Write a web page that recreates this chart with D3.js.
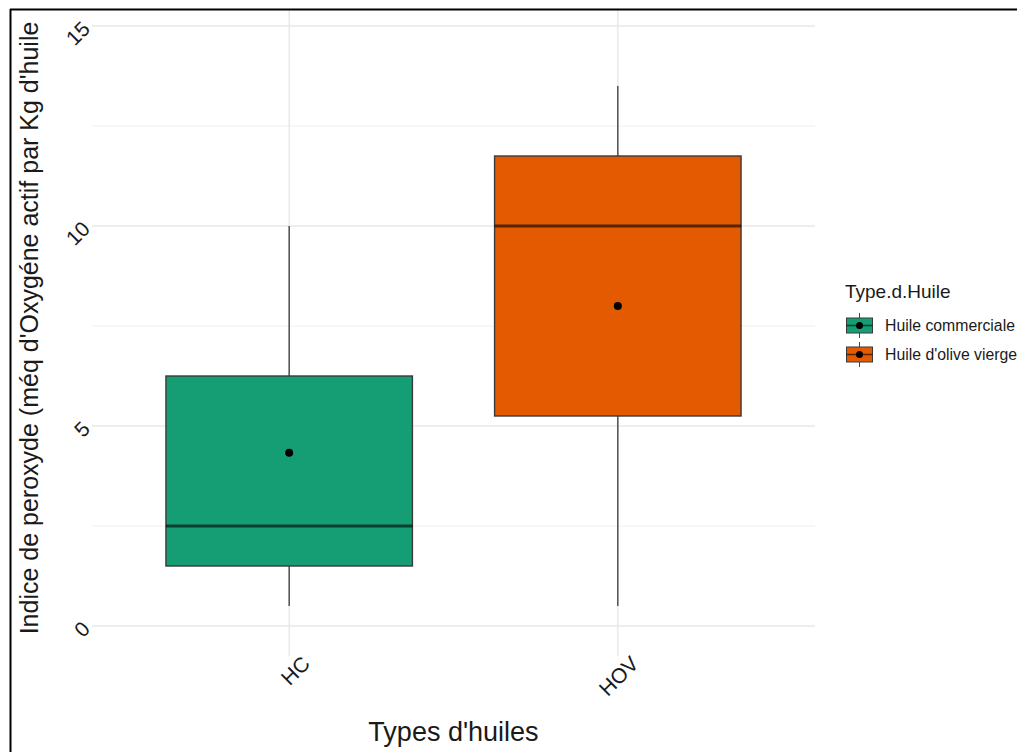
<!DOCTYPE html>
<html><head><meta charset="utf-8">
<script src="https://cdn.jsdelivr.net/npm/d3@7"></script>
<style>body{margin:0;background:#fff;} svg{display:block;font-family:"Liberation Sans",Arial,sans-serif;}</style>
</head><body>
<script>
const categories = ["HC", "HOV"];
const seriesNames = ["Huile commerciale", "Huile d'olive vierge"];
const whiskerLow = [0.5, 0.5];
const q1 = [1.5, 5.25];
const median = [2.5, 10];
const q3 = [6.25, 11.75];
const whiskerHigh = [10, 13.5];
const means = [4.33, 8.0];
const yTicks = [0, 5, 10, 15];
const yMinor = [2.5, 7.5, 12.5];
const colors = ["#159E74", "#E35A00"];

const W = 1017, H = 752;
const svg = d3.select("body").append("svg").attr("width", W).attr("height", H);

const pL = 92, pR = 815, pT = 9, pB = 656;
// band centers at 1 and 2 on a continuous 0.4..2.6 range (ggplot discrete expansion)
const xc = d3.scaleLinear().domain([0.4, 2.6]).range([pL, pR]);
const y = d3.scaleLinear().domain([-0.75, 15.75]).range([pB, -4]);

const g = svg.append("g");
svg.append("defs").append("clipPath").attr("id","pc").append("rect")
  .attr("x", pL).attr("y", pT).attr("width", pR-pL).attr("height", pB-pT);

const grid = g.append("g").attr("clip-path","url(#pc)");
grid.selectAll(".ymin").data(yMinor).enter().append("line")
  .attr("x1", pL).attr("x2", pR).attr("y1", d=>y(d)).attr("y2", d=>y(d))
  .attr("stroke", "#EFEFEF").attr("stroke-width", 1);
grid.selectAll(".ymaj").data(yTicks).enter().append("line")
  .attr("x1", pL).attr("x2", pR).attr("y1", d=>y(d)).attr("y2", d=>y(d))
  .attr("stroke", "#E8E8E8").attr("stroke-width", 1.4);
grid.selectAll(".xmaj").data(categories).enter().append("line")
  .attr("x1", (d,i)=>xc(i+1)).attr("x2", (d,i)=>xc(i+1)).attr("y1", pT).attr("y2", pB)
  .attr("stroke", "#E8E8E8").attr("stroke-width", 1.4);

const bw = 0.75;
const boxes = g.selectAll(".box").data(categories).enter().append("g");
boxes.append("line")
  .attr("x1",(d,i)=>xc(i+1)).attr("x2",(d,i)=>xc(i+1))
  .attr("y1",(d,i)=>y(whiskerHigh[i])).attr("y2",(d,i)=>y(q3[i]))
  .attr("stroke","#444").attr("stroke-width",1.4);
boxes.append("line")
  .attr("x1",(d,i)=>xc(i+1)).attr("x2",(d,i)=>xc(i+1))
  .attr("y1",(d,i)=>y(q1[i])).attr("y2",(d,i)=>y(whiskerLow[i]))
  .attr("stroke","#444").attr("stroke-width",1.4);
boxes.append("rect")
  .attr("x",(d,i)=>xc(i+1-bw/2)).attr("width",(d,i)=>xc(i+1+bw/2)-xc(i+1-bw/2))
  .attr("y",(d,i)=>y(q3[i])).attr("height",(d,i)=>y(q1[i])-y(q3[i]))
  .attr("fill",(d,i)=>colors[i]).attr("stroke","#3a3a3a").attr("stroke-width",1.4);
boxes.append("line")
  .attr("x1",(d,i)=>xc(i+1-bw/2)).attr("x2",(d,i)=>xc(i+1+bw/2))
  .attr("y1",(d,i)=>y(median[i])).attr("y2",(d,i)=>y(median[i]))
  .attr("stroke","#000").attr("stroke-opacity",0.6).attr("stroke-width",3);
boxes.append("circle")
  .attr("cx",(d,i)=>xc(i+1)).attr("cy",(d,i)=>y(means[i])).attr("r",4)
  .attr("fill","#000");

g.selectAll(".ylab").data(yTicks).enter().append("text")
  .attr("transform", d=>`translate(86,${y(d)-1}) rotate(-45)`)
  .attr("text-anchor","end").attr("dy","0.35em")
  .attr("font-size",21).attr("fill","#1a1a1a").text(d=>d);

g.selectAll(".xlab").data(categories).enter().append("text")
  .attr("transform",(d,i)=>`translate(${xc(i+1)+11},${654}) rotate(-45)`)
  .attr("text-anchor","end").attr("dy","0.75em")
  .attr("font-size",21).attr("fill","#1a1a1a").text(d=>d);

svg.append("text").attr("x",(pL+pR)/2).attr("y",741).attr("text-anchor","middle")
  .attr("font-size",27).attr("fill","#1a1a1a").text("Types d'huiles");
svg.append("text").attr("transform",`translate(38,${328}) rotate(-90)`).attr("text-anchor","middle")
  .attr("font-size",25).attr("fill","#1a1a1a").text("Indice de peroxyde (méq d'Oxygéne actif par Kg d'huile");

const lg = svg.append("g");
lg.append("text").attr("x",845).attr("y",298).attr("font-size",19).attr("fill","#1a1a1a").text("Type.d.Huile");
const items = lg.selectAll(".li").data(seriesNames).enter().append("g")
  .attr("transform",(d,i)=>`translate(846,${318+i*29})`);
items.append("line").attr("x1",13.5).attr("x2",13.5).attr("y1",-5).attr("y2",20).attr("stroke","#444").attr("stroke-width",1);
items.append("rect").attr("x",0.5).attr("y",0).attr("width",26).attr("height",15)
  .attr("fill",(d,i)=>colors[i]).attr("stroke","#3a3a3a").attr("stroke-width",1);
items.append("line").attr("x1",0.5).attr("x2",26.5).attr("y1",7.5).attr("y2",7.5).attr("stroke","#000").attr("stroke-opacity",0.6).attr("stroke-width",1.5);
items.append("circle").attr("cx",13.5).attr("cy",7.5).attr("r",3.5).attr("fill","#000");
items.append("text").attr("x",39).attr("y",7.5).attr("dy","0.35em").attr("font-size",15.8).attr("fill","#1a1a1a").text(d=>d);

svg.append("line").attr("x1",10).attr("x2",W).attr("y1",9.5).attr("y2",9.5).attr("stroke","#000").attr("stroke-width",2);
svg.append("line").attr("x1",10.5).attr("x2",10.5).attr("y1",9).attr("y2",H).attr("stroke","#000").attr("stroke-width",2);
</script>
</body></html>
